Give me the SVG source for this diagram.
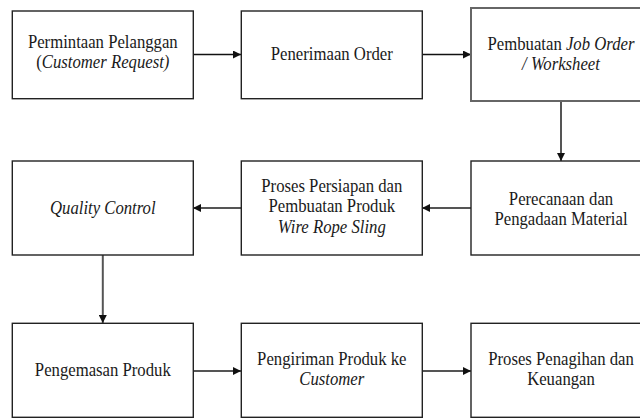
<svg xmlns="http://www.w3.org/2000/svg" width="640" height="419" viewBox="0 0 640 419">
<style>
.box{fill:#fff;stroke:#222;stroke-width:1.4}
.box2{fill:#fff;stroke:#666;stroke-width:2}
text{font-family:'Liberation Serif','Times New Roman','DejaVu Serif',serif;font-size:19px;fill:#1a1a1a;text-anchor:middle}
.i{font-style:italic}
.c1{stroke:#111;stroke-width:1.4;fill:none}
.c2{stroke:#555;stroke-width:2;fill:none}
</style>
<defs>
<marker id="ah" viewBox="0 0 10 10" refX="10" refY="5" markerWidth="9" markerHeight="8" markerUnits="userSpaceOnUse" orient="auto">
<path d="M0,0 L10,5 L0,10 Z" fill="#111"/>
</marker>
</defs>
<rect width="640" height="419" fill="#fff"/>
<g id="connectors">
<line class="c1" x1="193" y1="54.5" x2="241" y2="54.5" marker-end="url(#ah)"/>
<line class="c1" x1="422" y1="54.5" x2="471" y2="54.5" marker-end="url(#ah)"/>
<line class="c2" x1="561" y1="101" x2="561" y2="161" marker-end="url(#ah)"/>
<line class="c2" x1="471" y1="208" x2="422" y2="208" marker-end="url(#ah)"/>
<line class="c2" x1="241" y1="208" x2="193" y2="208" marker-end="url(#ah)"/>
<line class="c2" x1="102.8" y1="255" x2="102.8" y2="323" marker-end="url(#ah)"/>
<line class="c2" x1="193" y1="371" x2="241" y2="371" marker-end="url(#ah)"/>
<line class="c2" x1="422" y1="371" x2="471" y2="371" marker-end="url(#ah)"/>
</g>
<g id="n1">
<rect class="box" x="12.3" y="11" width="181" height="87.7"/>
<text font-family="Liberation Serif, serif" transform="translate(102.8,0) scale(0.88,1)"><tspan x="0" y="48">Permintaan Pelanggan</tspan><tspan x="0" y="68.5">(<tspan class="i">Customer Request)</tspan></tspan></text>
</g>
<g id="n2">
<rect class="box" x="241.3" y="11" width="181" height="87.7"/>
<text font-family="Liberation Serif, serif" transform="translate(331.8,0) scale(0.88,1)"><tspan x="0" y="60.5">Penerimaan Order</tspan></text>
</g>
<g id="n3">
<rect class="box2" x="471" y="8" width="181" height="93"/>
<text font-family="Liberation Serif, serif" transform="translate(561,0) scale(0.88,1)"><tspan x="0" y="50">Pembuatan <tspan class="i">Job Order</tspan></tspan><tspan x="0" y="70.5" class="i">/ Worksheet</tspan></text>
</g>
<g id="n4">
<rect class="box" x="471" y="161" width="181" height="94"/>
<text font-family="Liberation Serif, serif" transform="translate(561,0) scale(0.88,1)"><tspan x="0" y="205">Perecanaan dan</tspan><tspan x="0" y="225.5">Pengadaan Material</tspan></text>
</g>
<g id="n5">
<rect class="box" x="241.3" y="161" width="181" height="94"/>
<text font-family="Liberation Serif, serif" transform="translate(331.8,0) scale(0.88,1)"><tspan x="0" y="192">Proses Persiapan dan</tspan><tspan x="0" y="212.5">Pembuatan Produk</tspan><tspan x="0" y="233" class="i">Wire Rope Sling</tspan></text>
</g>
<g id="n6">
<rect class="box" x="12.3" y="161" width="181" height="94"/>
<text class="i" font-family="Liberation Serif, serif" transform="translate(102.8,0) scale(0.88,1)"><tspan x="0" y="214">Quality Control</tspan></text>
</g>
<g id="n7">
<rect class="box" x="12.3" y="323.3" width="181" height="94"/>
<text font-family="Liberation Serif, serif" transform="translate(102.8,0) scale(0.88,1)"><tspan x="0" y="376">Pengemasan Produk</tspan></text>
</g>
<g id="n8">
<rect class="box" x="241.3" y="323.3" width="181" height="94"/>
<text font-family="Liberation Serif, serif" transform="translate(331.8,0) scale(0.88,1)"><tspan x="0" y="365">Pengiriman Produk ke</tspan><tspan x="0" y="385.5" class="i">Customer</tspan></text>
</g>
<g id="n9">
<rect class="box" x="471" y="323.3" width="181" height="94"/>
<text font-family="Liberation Serif, serif" transform="translate(561,0) scale(0.88,1)"><tspan x="0" y="365">Proses Penagihan dan</tspan><tspan x="0" y="385.5">Keuangan</tspan></text>
</g>
</svg>
